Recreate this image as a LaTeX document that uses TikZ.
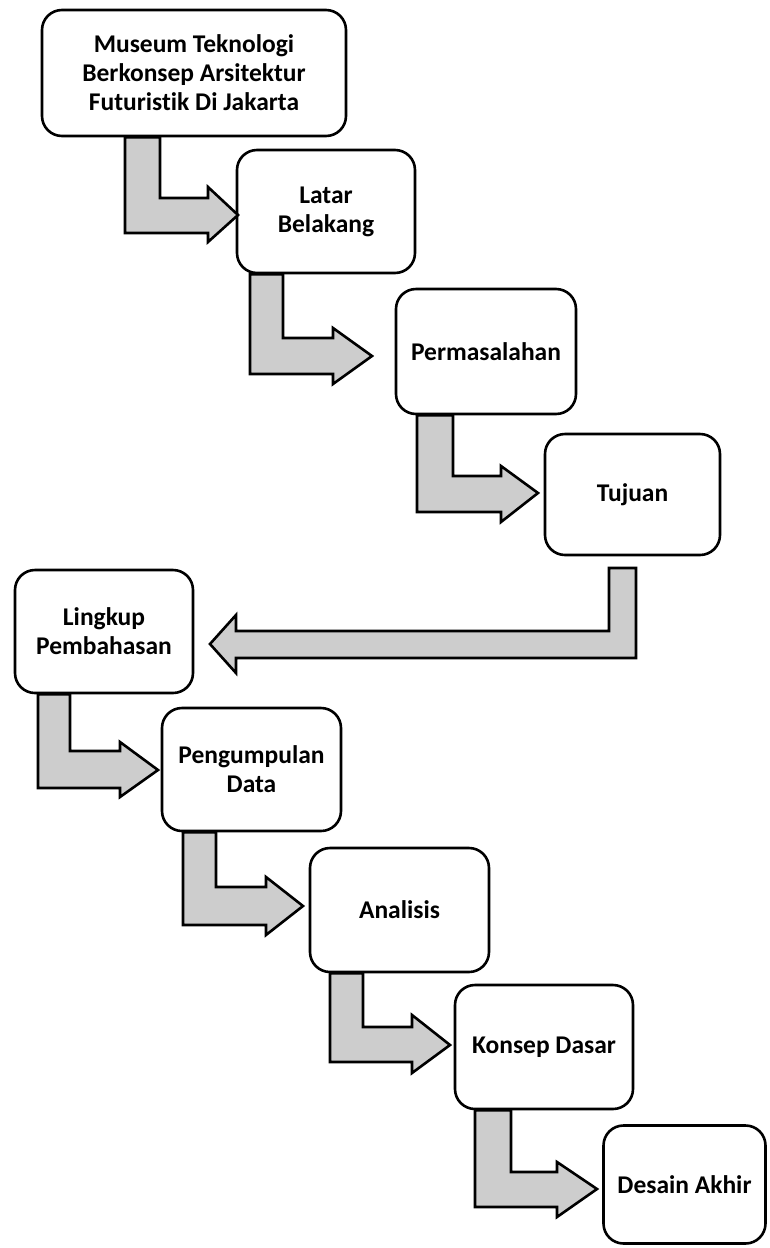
\documentclass[tikz,border=0pt]{standalone}
\usepackage{fontspec}
\setmainfont{Carlito}[Ligatures=NoCommon]
\usetikzlibrary{calc}
\definecolor{arrowgray}{RGB}{205,205,205}
\tikzset{
  box/.style={draw=black, line width=2.6pt, rounded corners=20pt, fill=white,
    align=center, inner sep=0pt, font=\fontsize{25.5}{29}\selectfont\bfseries},
  blockarrow/.style={draw=black, line width=2.6pt, fill=arrowgray, line join=miter}
}
% #1 from node, #2 sx1, #3 sx2, #4 bar top, #5 bar bottom, #6 head base x, #7 head top, #8 head bottom, #9 tip coordinate
\newcommand{\bentarrow}[9]{%
  \draw[blockarrow] (#2,0 |- #1.south) -- (#3,0 |- #1.south) -- (#3,#4) -- (#6,#4) -- (#6,#7) -- (#9) -- (#6,#8) -- (#6,#5) -- (#2,#5) -- cycle;}
\begin{document}
\begin{tikzpicture}[x=1pt,y=-1pt]
\useasboundingbox (0,0) rectangle (770,1248);
\node[box, minimum width=304pt, minimum height=126pt] (b1) at (194,73) {Museum Teknologi\\Berkonsep Arsitektur\\Futuristik Di Jakarta};
\node[box, minimum width=178pt, minimum height=123pt] (b2) at (326,211.5) {Latar\\Belakang};
\node[box, minimum width=180pt, minimum height=125pt] (b3) at (486,351.5) {Permasalahan};
\node[box, minimum width=175pt, minimum height=121pt] (b4) at (632.5,494.5) {Tujuan};
\node[box, minimum width=178pt, minimum height=123pt] (b5) at (104,631.5) {Lingkup\\Pembahasan};
\node[box, minimum width=179pt, minimum height=123pt] (b6) at (251.5,769.5) {Pengumpulan\\Data};
\node[box, minimum width=179pt, minimum height=124pt] (b7) at (399.5,910) {Analisis};
\node[box, minimum width=178pt, minimum height=124pt] (b8) at (544,1047) {Konsep Dasar};
\node[box, minimum width=162pt, minimum height=118pt] (b9) at (684.5,1184.5) {Desain Akhir};

\coordinate (t1) at (238,215);
\coordinate (t2) at (372,356);
\coordinate (t3) at (538,493);
\coordinate (t5) at (158,770);
\coordinate (t6) at (303,906);
\coordinate (t7) at (450,1045);
\coordinate (t8) at (597,1189);
\coordinate (t4) at (210,644);

\bentarrow{b1}{125}{160}{198}{233}{208}{187}{242}{t1}
\bentarrow{b2}{250}{283}{338}{374}{333}{328}{384}{t2}
\bentarrow{b3}{417}{453}{476}{512}{501}{466}{522}{t3}
\bentarrow{b5}{38}{70}{751}{788}{120}{742}{797}{t5}
\bentarrow{b6}{183}{216}{887}{925}{266}{877}{935}{t6}
\bentarrow{b7}{330}{363}{1027}{1062}{412}{1015}{1073}{t7}
\bentarrow{b8}{475}{511}{1172}{1207}{557}{1162}{1217}{t8}

\draw[blockarrow] (609,568) -- (636,568) -- (636,658) -- (236,658) -- (236,673) -- (t4) -- (236,615) -- (236,631) -- (609,631) -- cycle;
\end{tikzpicture}
\end{document}
